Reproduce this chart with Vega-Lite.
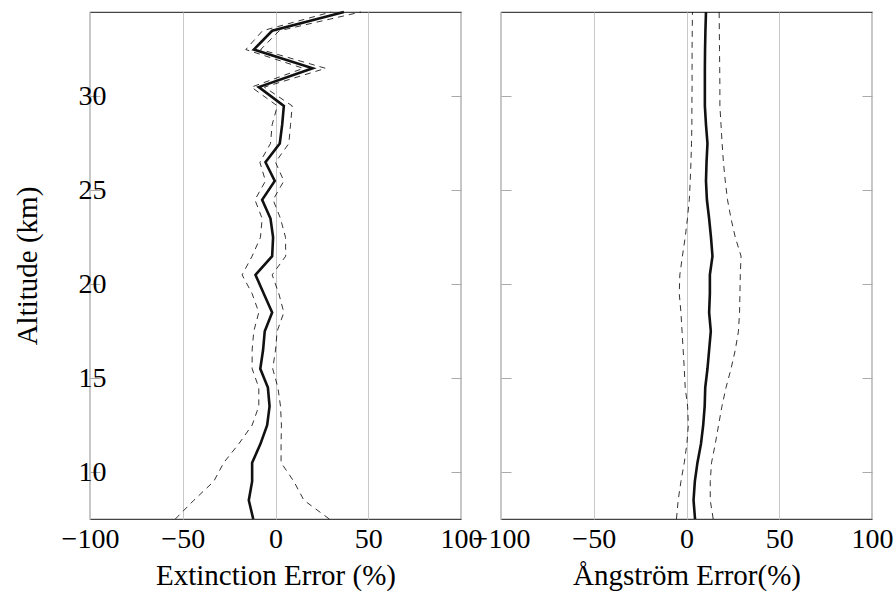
{
  "$schema": "https://vega.github.io/schema/vega-lite/v6.json",
  "background": "white",
  "padding": {"left": 12, "top": -2, "right": 0, "bottom": 0},
  "spacing": 40,
  "bounds": "flush",
  "config": {
    "font": "Liberation Serif",
    "view": {"stroke": "#444", "strokeWidth": 1.2},
    "axis": {"labelFont": "Liberation Serif", "titleFont": "Liberation Serif", "labelFontSize": 28, "titleFontSize": 29, "labelColor": "#000", "titleColor": "#000", "titleFontWeight": "normal", "domain": false},
    "line": {"strokeJoin": "miter", "strokeMiterLimit": 10}
  },
  "data": {"values": [
    {"alt": 34.5, "ext_lo": 30, "ext": 36.9, "ext_hi": 46, "ang_lo": 3.2, "ang": 10.5, "ang_hi": 17.6},
    {"alt": 33.5, "ext_lo": -7, "ext": -1.8, "ext_hi": 2, "ang_lo": 3.1, "ang": 10.2, "ang_hi": 17.7},
    {"alt": 32.5, "ext_lo": -16, "ext": -11.7, "ext_hi": -8, "ang_lo": 3, "ang": 10, "ang_hi": 17.8},
    {"alt": 31.5, "ext_lo": 15, "ext": 20, "ext_hi": 27, "ang_lo": 3, "ang": 9.9, "ang_hi": 17.9},
    {"alt": 30.5, "ext_lo": -13, "ext": -9, "ext_hi": -6, "ang_lo": 3, "ang": 9.9, "ang_hi": 18},
    {"alt": 29.5, "ext_lo": 1, "ext": 4.5, "ext_hi": 9, "ang_lo": 2.9, "ang": 9.9, "ang_hi": 18},
    {"alt": 28.5, "ext_lo": -1.8, "ext": 3.6, "ext_hi": 8.1, "ang_lo": 2.9, "ang": 10.5, "ang_hi": 18.6},
    {"alt": 27.5, "ext_lo": -2.7, "ext": 2.3, "ext_hi": 7.2, "ang_lo": 2.7, "ang": 11.3, "ang_hi": 19.2},
    {"alt": 26.5, "ext_lo": -8.4, "ext": -5.4, "ext_hi": 0, "ang_lo": 2.4, "ang": 10.8, "ang_hi": 19.9},
    {"alt": 25.5, "ext_lo": -5.4, "ext": -0.4, "ext_hi": 4.5, "ang_lo": 2, "ang": 10.5, "ang_hi": 20.9},
    {"alt": 24.5, "ext_lo": -11.1, "ext": -7.2, "ext_hi": -1.3, "ang_lo": 1.5, "ang": 11, "ang_hi": 22.1},
    {"alt": 23.5, "ext_lo": -7.2, "ext": -2.7, "ext_hi": 2.7, "ang_lo": 0.5, "ang": 12.2, "ang_hi": 24},
    {"alt": 22.5, "ext_lo": -8.1, "ext": -1.3, "ext_hi": 5.4, "ang_lo": -0.7, "ang": 13.2, "ang_hi": 26.3},
    {"alt": 21.5, "ext_lo": -12.6, "ext": -1.8, "ext_hi": 5.5, "ang_lo": -2.2, "ang": 14, "ang_hi": 29.4},
    {"alt": 20.5, "ext_lo": -18, "ext": -10.8, "ext_hi": -1.8, "ang_lo": -3.6, "ang": 12.6, "ang_hi": 29},
    {"alt": 19.5, "ext_lo": -12.6, "ext": -6.3, "ext_hi": 1.8, "ang_lo": -3.9, "ang": 12.6, "ang_hi": 28.8},
    {"alt": 18.5, "ext_lo": -9, "ext": -1.8, "ext_hi": 4.5, "ang_lo": -3, "ang": 12.2, "ang_hi": 28.6},
    {"alt": 17.5, "ext_lo": -11.7, "ext": -5.8, "ext_hi": 0.9, "ang_lo": -2.4, "ang": 13.1, "ang_hi": 28},
    {"alt": 16.5, "ext_lo": -12.6, "ext": -6.7, "ext_hi": 0, "ang_lo": -1.8, "ang": 12.2, "ang_hi": 26.3},
    {"alt": 15.5, "ext_lo": -12.6, "ext": -8.2, "ext_hi": -1.5, "ang_lo": -1.2, "ang": 11.3, "ang_hi": 24},
    {"alt": 14.5, "ext_lo": -9, "ext": -4.1, "ext_hi": 1.3, "ang_lo": -0.7, "ang": 10.1, "ang_hi": 21.3},
    {"alt": 13.5, "ext_lo": -9, "ext": -3.2, "ext_hi": 2.7, "ang_lo": 0.6, "ang": 9.8, "ang_hi": 19.1},
    {"alt": 12.5, "ext_lo": -12.6, "ext": -4.5, "ext_hi": 3.2, "ang_lo": 1, "ang": 9, "ang_hi": 17.3},
    {"alt": 11.5, "ext_lo": -19.8, "ext": -8.1, "ext_hi": 3, "ang_lo": 0.2, "ang": 7.8, "ang_hi": 15.5},
    {"alt": 10.5, "ext_lo": -27.9, "ext": -12.6, "ext_hi": 3, "ang_lo": -1.2, "ang": 5.9, "ang_hi": 13.5},
    {"alt": 9.5, "ext_lo": -33.3, "ext": -12.6, "ext_hi": 9.9, "ang_lo": -3, "ang": 4.5, "ang_hi": 12.8},
    {"alt": 8.5, "ext_lo": -44, "ext": -14.4, "ext_hi": 15.3, "ang_lo": -4.5, "ang": 3.8, "ang_hi": 12.8},
    {"alt": 7.5, "ext_lo": -54, "ext": -12, "ext_hi": 29, "ang_lo": -5.4, "ang": 4.6, "ang_hi": 14.4}
  ]},
  "hconcat": [
    {
      "width": 371, "height": 507,
      "resolve": {"axis": {"y": "independent"}},
      "layer": [
        {
          "mark": {"type": "line", "color": "#000", "strokeWidth": 0.8, "strokeDash": [6, 5]},
          "encoding": {
            "x": {"field": "ext_lo", "type": "quantitative", "title": "Extinction Error (%)",
                  "scale": {"domain": [-100, 100], "nice": false},
                  "axis": {"values": [-100, -50, 0, 50, 100], "grid": true, "gridColor": "#c8c8c8", "gridWidth": 1, "ticks": false, "labelPadding": 6, "titlePadding": 8, "labelFlush": false, "labelOverlap": false, "labelBound": false}},
            "y": {"field": "alt", "type": "quantitative", "title": "Altitude (km)",
                  "scale": {"domain": [7.5, 34.5], "nice": false, "zero": false},
                  "axis": {"orient": "left", "values": [10, 15, 20, 25, 30], "grid": false, "tickSize": -10, "tickColor": "#aaa", "tickWidth": 1, "labelPadding": -6, "titlePadding": 36}},
            "order": {"field": "alt"}
          }
        },
        {
          "mark": {"type": "line", "color": "#000", "strokeWidth": 0.8, "strokeDash": [6, 5]},
          "encoding": {
            "x": {"field": "ext_hi", "type": "quantitative", "title": "Extinction Error (%)"},
            "y": {"field": "alt", "type": "quantitative",
                  "axis": {"orient": "right", "values": [10, 15, 20, 25, 30], "grid": false, "labels": false, "title": null, "tickSize": -10, "tickColor": "#aaa", "tickWidth": 1}},
            "order": {"field": "alt"}
          }
        },
        {
          "mark": {"type": "line", "color": "#111", "strokeWidth": 2.6},
          "encoding": {
            "x": {"field": "ext", "type": "quantitative", "title": "Extinction Error (%)"},
            "y": {"field": "alt", "type": "quantitative", "axis": null},
            "order": {"field": "alt"}
          }
        }
      ]
    },
    {
      "width": 371, "height": 507,
      "resolve": {"axis": {"y": "independent"}},
      "layer": [
        {
          "mark": {"type": "line", "color": "#000", "strokeWidth": 0.8, "strokeDash": [6, 5]},
          "encoding": {
            "x": {"field": "ang_lo", "type": "quantitative", "title": "Ångström Error(%)",
                  "scale": {"domain": [-100, 100], "nice": false},
                  "axis": {"values": [-100, -50, 0, 50, 100], "grid": true, "gridColor": "#c8c8c8", "gridWidth": 1, "ticks": false, "labelPadding": 6, "titlePadding": 8, "labelFlush": false, "labelOverlap": false, "labelBound": false}},
            "y": {"field": "alt", "type": "quantitative",
                  "scale": {"domain": [7.5, 34.5], "nice": false, "zero": false},
                  "axis": {"orient": "left", "values": [10, 15, 20, 25, 30], "grid": false, "labels": false, "title": null, "tickSize": -10, "tickColor": "#aaa", "tickWidth": 1}},
            "order": {"field": "alt"}
          }
        },
        {
          "mark": {"type": "line", "color": "#000", "strokeWidth": 0.8, "strokeDash": [6, 5]},
          "encoding": {
            "x": {"field": "ang_hi", "type": "quantitative", "title": "Ångström Error(%)"},
            "y": {"field": "alt", "type": "quantitative",
                  "axis": {"orient": "right", "values": [10, 15, 20, 25, 30], "grid": false, "labels": false, "title": null, "tickSize": -10, "tickColor": "#aaa", "tickWidth": 1}},
            "order": {"field": "alt"}
          }
        },
        {
          "mark": {"type": "line", "color": "#111", "strokeWidth": 2.6},
          "encoding": {
            "x": {"field": "ang", "type": "quantitative", "title": "Ångström Error(%)"},
            "y": {"field": "alt", "type": "quantitative", "axis": null},
            "order": {"field": "alt"}
          }
        }
      ]
    }
  ]
}
